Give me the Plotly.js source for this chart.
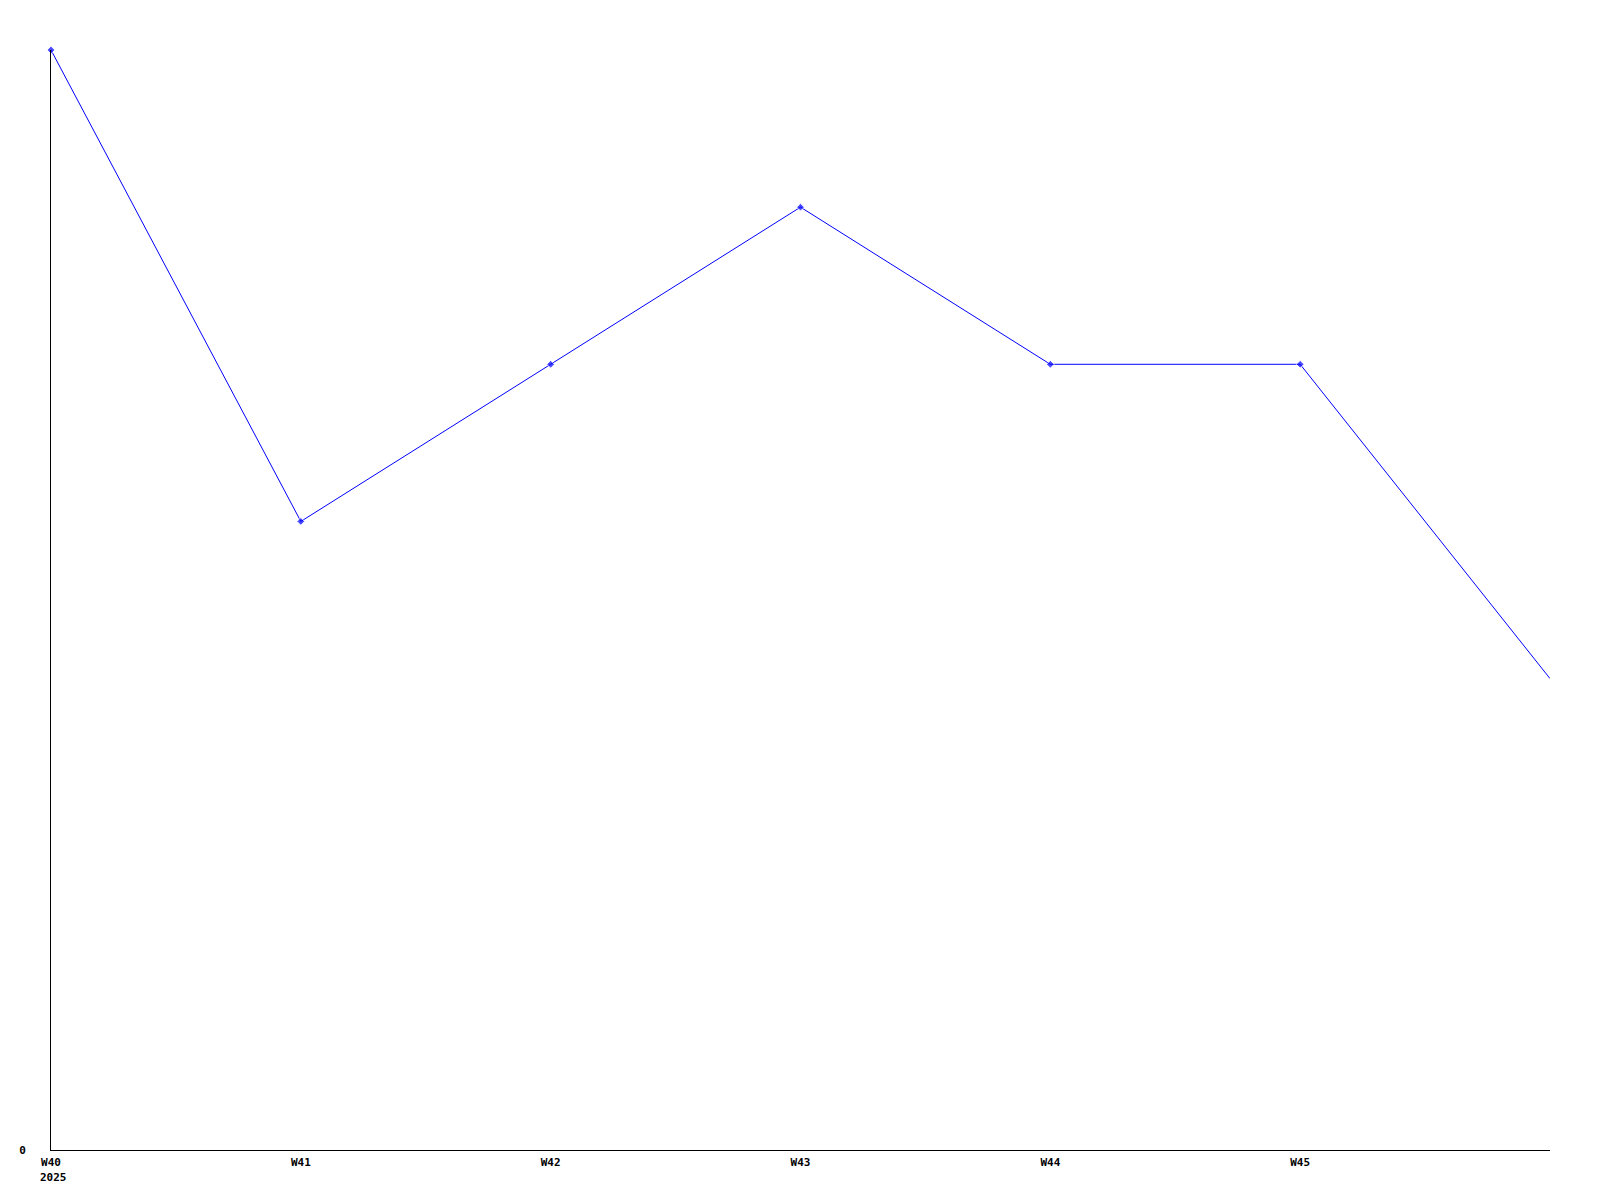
<!DOCTYPE html>
<html>
<head>
<meta charset="utf-8">
<script src="https://cdn.plot.ly/plotly-3.0.1.min.js"></script>
<style>html,body{margin:0;padding:0;background:#fff;}</style>
</head>
<body>
<div id="chart" style="width:1600px;height:1200px;"></div>
<script>
const weeks = ["W40", "W41", "W42", "W43", "W44", "W45", "W46"];
const values = [7, 4, 5, 6, 5, 5, 3];
const tickWeeks = ["W40", "W41", "W42", "W43", "W44", "W45"];
const yearLabel = "2025";
const yTicks = [0];

const xIdx = weeks.map((w, i) => i);
const markerSizes = weeks.map((w, i) => i < tickWeeks.length ? 6 : 0);
const font = {family: "DejaVu Sans Mono, monospace", size: 11, color: "#000", weight: "bold"};

Plotly.newPlot("chart", [{
  x: xIdx,
  y: values,
  type: "scatter",
  mode: "lines+markers",
  line: {color: "#0000ff", width: 1},
  marker: {color: "#0000ff", symbol: "diamond", size: markerSizes},
  cliponaxis: false,
  hoverinfo: "skip"
}], {
  width: 1600, height: 1200,
  margin: {l: 51, r: 50, t: 50, b: 50, pad: 0},
  paper_bgcolor: "#fff", plot_bgcolor: "#fff",
  showlegend: false,
  font: font,
  xaxis: {
    range: [0, weeks.length - 1],
    tickmode: "array",
    tickvals: tickWeeks.map((w, i) => i),
    ticktext: tickWeeks,
    showgrid: false, zeroline: false,
    showline: true, linecolor: "#000", linewidth: 1,
    ticks: "", ticklabelstandoff: 2,
    tickfont: font
  },
  yaxis: {
    range: [0, Math.max(...values)],
    tickmode: "array",
    tickvals: yTicks,
    ticktext: yTicks.map(String),
    showgrid: false, zeroline: false,
    showline: true, linecolor: "#000", linewidth: 1,
    ticks: "", ticklabelstandoff: 22,
    tickfont: font
  },
  annotations: [{
    xref: "x", yref: "paper", x: 0, y: 0,
    xanchor: "left", yanchor: "top",
    xshift: -13, yshift: -19,
    text: yearLabel, showarrow: false,
    font: font
  }]
}, {staticPlot: true, displayModeBar: false});
</script>
</body>
</html>
